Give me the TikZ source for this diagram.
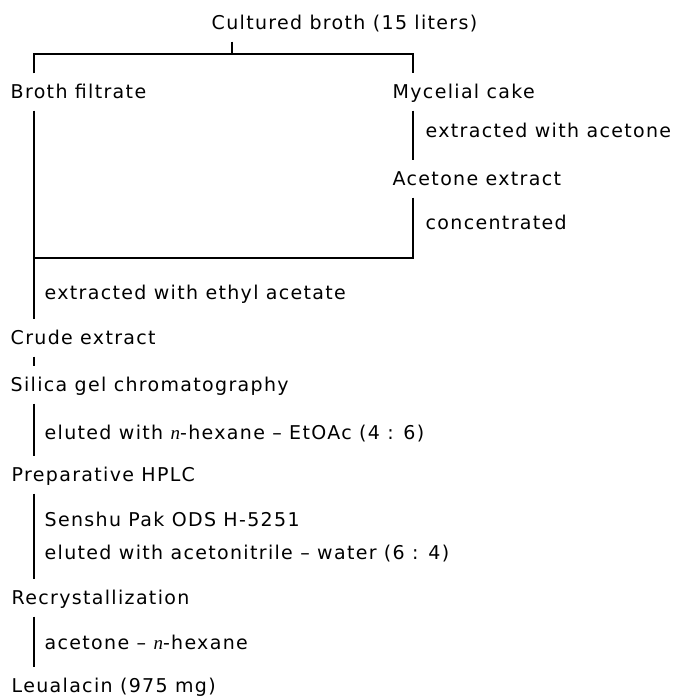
\documentclass[tikz,border=0pt]{standalone}
\usepackage{fontspec}
\setmainfont{DejaVu Sans}[LetterSpace=7]
\newfontfamily\italserif{Liberation Serif}
\newcommand{\nprefix}{{\italserif\itshape n}}

\begin{document}
\begin{tikzpicture}[x=1pt,y=-1pt,line width=1.4pt,
  every node/.style={font=\fontsize{19}{22}\selectfont},
  stage/.style={anchor=west,inner xsep=0pt,inner ysep=11pt,text height=13.9pt,text depth=0pt},
  note/.style={anchor=west,inner sep=0pt,text height=13.9pt,text depth=0pt}]
\useasboundingbox (0,0) rectangle (673,698);

\node[stage] (cult) at (211,23) {Cultured broth (15 liters)};
\coordinate (split) at (232,54);
\coordinate (ltop) at (34,54);
\coordinate (rtop) at (413,54);
\coordinate (lbot) at (34,258);
\coordinate (rbot) at (413,258);

\node[stage] (filt) at (10,92) {Broth filtrate};
\node[stage] (myc) at (392,92) {Mycelial cake};
\node[note] (ext1) at (425,131) {extracted with acetone};
\node[stage] (acext) at (392,179) {Acetone extract};
\node[note] (conc) at (425,223) {concentrated};

\node[note] (ext2) at (44,293) {extracted with ethyl acetate};
\node[stage] (crude) at (10,338) {Crude extract};
\node[stage] (silica) at (10,385) {Silica gel chromatography};
\node[note] (elu1) at (44,433) {eluted with \nprefix-hexane – EtOAc (4 : 6)};
\node[stage] (prep) at (11,475) {Preparative HPLC};
\node[note] (col) at (44,520) {Senshu Pak ODS H-5251};
\node[note] (elu2) at (44,553) {eluted with acetonitrile – water (6 : 4)};
\node[stage] (recr) at (11,598) {Recrystallization};
\node[note] (solv) at (44,643) {acetone – \nprefix-hexane};
\node[stage] (leu) at (11,686) {Leualacin (975 mg)};

% splitting of the broth
\draw (cult.south -| split) -- (split);
\draw (filt.north -| ltop) -- (ltop) -- (rtop) -- (myc.north -| rtop);
% mycelium side
\draw (myc.south -| rtop) -- (acext.north -| rtop);
\draw (acext.south -| rtop) -- (rbot) -- (lbot);
% main line
\draw (filt.south -| ltop) -- (crude.north -| ltop);
\draw (crude.south -| ltop) -- (silica.north -| ltop);
\draw (silica.south -| ltop) -- (prep.north -| ltop);
\draw (prep.south -| ltop) -- (recr.north -| ltop);
\draw (recr.south -| ltop) -- (leu.north -| ltop);

\end{tikzpicture}
\end{document}
